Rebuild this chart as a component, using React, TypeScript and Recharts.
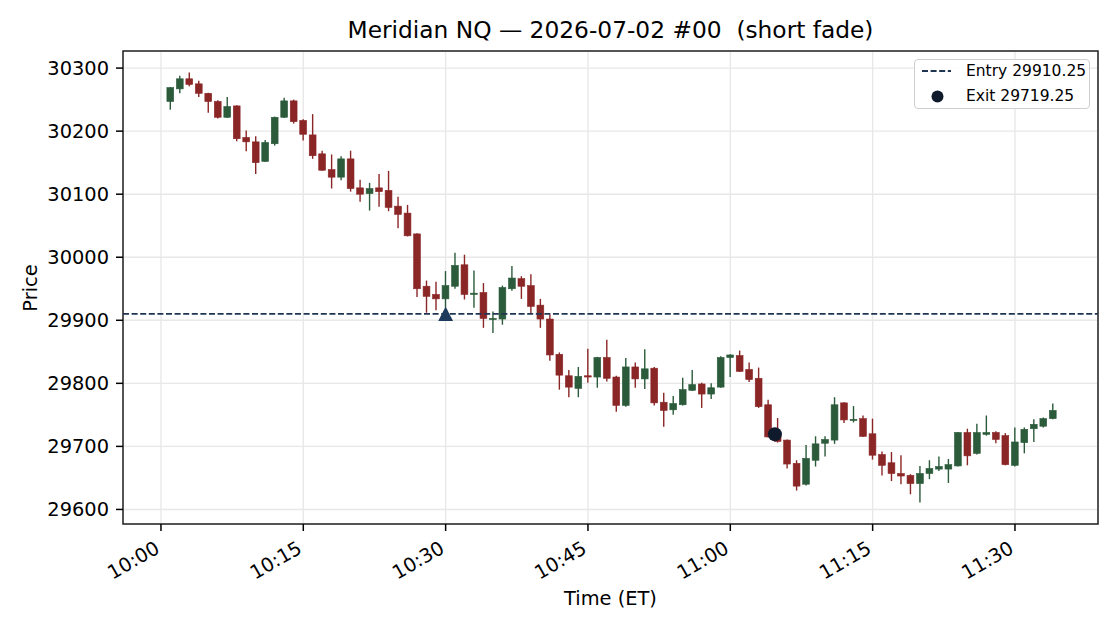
import React from "react";
import {
  Bar,
  CartesianGrid,
  ComposedChart,
  ReferenceArea,
  ReferenceLine,
  Scatter,
  XAxis,
  YAxis,
} from "recharts";

const FONT = "'DejaVu Sans', sans-serif";
const RED = "#8b2626";
const GREEN = "#2b5b3b";
const NAVY = "#1f3552";
const BODY_W = 6.8;

// one-minute bars, 10:01 .. 11:34 ET
const times = [
  "10:01", "10:02", "10:03", "10:04", "10:05", "10:06", "10:07", "10:08", "10:09", "10:10",
  "10:11", "10:12", "10:13", "10:14", "10:15", "10:16", "10:17", "10:18", "10:19", "10:20",
  "10:21", "10:22", "10:23", "10:24", "10:25", "10:26", "10:27", "10:28", "10:29", "10:30",
  "10:31", "10:32", "10:33", "10:34", "10:35", "10:36", "10:37", "10:38", "10:39", "10:40",
  "10:41", "10:42", "10:43", "10:44", "10:45", "10:46", "10:47", "10:48", "10:49", "10:50",
  "10:51", "10:52", "10:53", "10:54", "10:55", "10:56", "10:57", "10:58", "10:59", "11:00",
  "11:01", "11:02", "11:03", "11:04", "11:05", "11:06", "11:07", "11:08", "11:09", "11:10",
  "11:11", "11:12", "11:13", "11:14", "11:15", "11:16", "11:17", "11:18", "11:19", "11:20",
  "11:21", "11:22", "11:23", "11:24", "11:25", "11:26", "11:27", "11:28", "11:29", "11:30",
  "11:31", "11:32", "11:33", "11:34",
];
const opens = [
  30247, 30267, 30283, 30275, 30260, 30247, 30222, 30240, 30190, 30183,
  30152, 30180, 30222, 30248, 30217, 30194, 30164, 30139, 30127, 30156,
  30110, 30101, 30110, 30106, 30081, 30070, 30037, 29954, 29941, 29934,
  29954, 29988, 29941, 29944, 29902, 29902, 29950, 29966, 29955, 29924,
  29902, 29846, 29812, 29792, 29812, 29810, 29841, 29810, 29765, 29826,
  29807, 29824, 29770, 29758, 29766, 29789, 29799, 29783, 29794, 29841,
  29844, 29822, 29808, 29766, 29717, 29710, 29673, 29640, 29678, 29705,
  29710, 29769, 29741, 29744, 29720, 29687, 29674, 29657, 29654, 29641,
  29657, 29664, 29664, 29669, 29722, 29689, 29719, 29722, 29717, 29670,
  29706, 29728, 29732, 29744,
];
const highs = [
  30270, 30288, 30293, 30280, 30261, 30249, 30254, 30241, 30201, 30192,
  30186, 30223, 30253, 30250, 30219, 30227, 30169, 30163, 30160, 30169,
  30123, 30118, 30132, 30137, 30096, 30083, 30038, 29963, 29961, 29978,
  30007, 30004, 29979, 29959, 29914, 29955, 29986, 29970, 29973, 29934,
  29909, 29849, 29821, 29826, 29855, 29842, 29869, 29812, 29840, 29833,
  29854, 29826, 29785, 29780, 29809, 29821, 29801, 29800, 29843, 29846,
  29852, 29833, 29825, 29774, 29745, 29711, 29678, 29702, 29716, 29716,
  29778, 29770, 29764, 29749, 29744, 29692, 29691, 29686, 29656, 29669,
  29678, 29684, 29680, 29723, 29728, 29736, 29749, 29724, 29721, 29730,
  29730, 29743, 29746, 29768,
];
const lows = [
  30234, 30260, 30271, 30254, 30229, 30220, 30221, 30184, 30168, 30132,
  30151, 30177, 30221, 30212, 30185, 30156, 30137, 30109, 30122, 30104,
  30088, 30074, 30080, 30073, 30046, 30033, 29937, 29912, 29916, 29920,
  29950, 29933, 29920, 29888, 29880, 29893, 29947, 29934, 29910, 29888,
  29836, 29790, 29778, 29778, 29801, 29793, 29803, 29755, 29763, 29793,
  29791, 29765, 29731, 29750, 29765, 29788, 29761, 29775, 29793, 29810,
  29818, 29802, 29761, 29714, 29706, 29665, 29630, 29638, 29668, 29684,
  29704, 29737, 29738, 29715, 29679, 29654, 29645, 29640, 29624, 29611,
  29648, 29661, 29642, 29668, 29670, 29687, 29717, 29705, 29670, 29668,
  29689, 29707, 29730, 29743,
];
const closes = [
  30269, 30283, 30274, 30260, 30247, 30222, 30239, 30188, 30183, 30150,
  30182, 30222, 30248, 30215, 30195, 30161, 30138, 30127, 30156, 30109,
  30100, 30109, 30104, 30079, 30068, 30034, 29950, 29938, 29934, 29955,
  29987, 29941, 29943, 29903, 29903, 29952, 29967, 29954, 29922, 29902,
  29845, 29813, 29794, 29811, 29810, 29841, 29808, 29765, 29826, 29807,
  29823, 29769, 29757, 29768, 29790, 29798, 29783, 29793, 29841, 29845,
  29819, 29806, 29763, 29715, 29708, 29672, 29637, 29681, 29704, 29711,
  29766, 29742, 29743, 29716, 29686, 29670, 29657, 29653, 29641, 29657,
  29665, 29668, 29671, 29722, 29685, 29722, 29722, 29711, 29671, 29707,
  29727, 29735, 29744, 29757,
];

const timeTicks = ["10:00", "10:15", "10:30", "10:45", "11:00", "11:15", "11:30"];
const priceTicks = [29600, 29700, 29800, 29900, 30000, 30100, 30200, 30300];

const entryTime = "10:30";
const entryPrice = 29910.25;
const exitTime = "11:04:42";
const exitPrice = 29719.25;

const X_DOMAIN: [number, number] = [-4, 98.75];
const Y_DOMAIN: [number, number] = [29576.9, 30327.1];

// minutes after 10:00
const toMin = (s: string) => {
  const [h, m, sec] = s.split(":").map(Number);
  return (h - 10) * 60 + m + (sec || 0) / 60;
};

const candles = times.map((t, i) => ({
  t: toMin(t),
  range: [lows[i], highs[i]],
  o: opens[i],
  h: highs[i],
  l: lows[i],
  c: closes[i],
}));
const entryPts = [{ t: toMin(entryTime), p: entryPrice }];
const exitPts = [{ t: toMin(exitTime), p: exitPrice }];

const Candle = (props: any) => {
  const { x, y, width, height, payload } = props;
  if (!payload) return null;
  const { o, h, l, c } = payload;
  const color = c >= o ? GREEN : RED;
  const top = Math.min(y, y + height);
  const hgt = Math.abs(height);
  const k = hgt / (h - l);
  const cx = x + width / 2;
  const bTop = top + (h - Math.max(o, c)) * k;
  const bBot = top + (h - Math.min(o, c)) * k;
  return (
    <g>
      <line x1={cx} x2={cx} y1={top} y2={top + hgt} stroke={color} strokeWidth={1.4} />
      <rect
        x={cx - BODY_W / 2}
        y={bTop}
        width={BODY_W}
        height={Math.max(bBot - bTop, 1.2)}
        fill={color}
        stroke={color}
        strokeWidth={0.6}
      />
    </g>
  );
};

const EntryMark = ({ cx, cy }: any) => (
  <polygon
    points={`${cx},${cy - 7.3} ${cx - 7.4},${cy + 7.2} ${cx + 7.4},${cy + 7.2}`}
    fill="#1d3a5c"
  />
);
const ExitMark = ({ cx, cy }: any) => <circle cx={cx} cy={cy} r={7} fill="#0f1b2d" />;

const TimeTick = ({ x, y, payload }: any) => (
  <text
    x={x}
    y={y + 21}
    textAnchor="end"
    transform={`rotate(-30, ${x}, ${y + 21})`}
    fontSize={19.4}
    fontFamily={FONT}
    fill="#000"
  >
    {timeTicks[timeTicks.map(toMin).indexOf(payload.value)]}
  </text>
);

export default function App() {
  return (
    <div
      style={{
        position: "absolute",
        left: 0,
        top: 0,
        width: 1120,
        height: 630,
        background: "#fff",
        fontFamily: FONT,
      }}
    >
      <ComposedChart
        width={1120}
        height={630}
        data={candles}
        margin={{ top: 51, right: 22, left: 0, bottom: 0 }}
      >
        <CartesianGrid stroke="#e8e8e8" strokeWidth={1.4} />
        <XAxis
          dataKey="t"
          type="number"
          domain={X_DOMAIN}
          allowDataOverflow
          ticks={timeTicks.map(toMin)}
          tick={<TimeTick />}
          tickSize={7}
          tickMargin={0}
          tickLine={{ stroke: "#000", strokeWidth: 1.5 }}
          axisLine={false}
          height={106}
        />
        <YAxis
          type="number"
          domain={Y_DOMAIN}
          allowDataOverflow
          ticks={priceTicks}
          width={123}
          tickSize={7}
          tickMargin={7}
          tickLine={{ stroke: "#000", strokeWidth: 1.5 }}
          axisLine={false}
          tick={{ fontSize: 19.4, fill: "#000", fontFamily: FONT }}
        />
        <ReferenceLine
          y={entryPrice}
          stroke={NAVY}
          strokeWidth={1.8}
          strokeDasharray="6 2.6"
        />
        <Bar dataKey="range" barSize={7} shape={<Candle />} isAnimationActive={false} />
        <Scatter data={entryPts} dataKey="p" shape={<EntryMark />} isAnimationActive={false} />
        <Scatter data={exitPts} dataKey="p" shape={<ExitMark />} isAnimationActive={false} />
        <ReferenceArea
          x1={X_DOMAIN[0]}
          x2={X_DOMAIN[1]}
          y1={Y_DOMAIN[0]}
          y2={Y_DOMAIN[1]}
          fill="none"
          fillOpacity={0}
          stroke="#222"
          strokeWidth={1.5}
        />
      </ComposedChart>

      <div
        style={{
          position: "absolute",
          left: 0,
          width: 1221,
          top: 16,
          textAlign: "center",
          fontSize: 23.3,
          whiteSpace: "pre",
          color: "#000",
        }}
      >
        Meridian NQ — 2026-07-02 #00  (short fade)
      </div>
      <div
        style={{
          position: "absolute",
          left: 0,
          width: 1221,
          top: 587,
          textAlign: "center",
          fontSize: 19.4,
          color: "#000",
        }}
      >
        Time (ET)
      </div>
      <div
        style={{
          position: "absolute",
          left: 30,
          top: 287.5,
          transform: "translate(-50%, -50%) rotate(-90deg)",
          fontSize: 19.4,
          color: "#000",
          whiteSpace: "nowrap",
        }}
      >
        Price
      </div>

      <div
        style={{
          position: "absolute",
          left: 914,
          top: 59,
          width: 176,
          height: 50,
          boxSizing: "border-box",
          border: "1.3px solid #cfcfcf",
          borderRadius: 4,
          background: "rgba(255,255,255,0.85)",
          fontSize: 15.5,
          color: "#000",
        }}
      >
        <svg width={40} height={50} style={{ position: "absolute", left: 0, top: 0 }}>
          <line x1={7} x2={36} y1={11} y2={11} stroke={NAVY} strokeWidth={1.8} strokeDasharray="6 2.6" />
          <circle cx={22.5} cy={36.5} r={6} fill="#0f1b2d" />
        </svg>
        <div style={{ position: "absolute", left: 51, top: 1, lineHeight: "20px" }}>Entry 29910.25</div>
        <div style={{ position: "absolute", left: 51, top: 26, lineHeight: "20px" }}>Exit 29719.25</div>
      </div>
    </div>
  );
}
